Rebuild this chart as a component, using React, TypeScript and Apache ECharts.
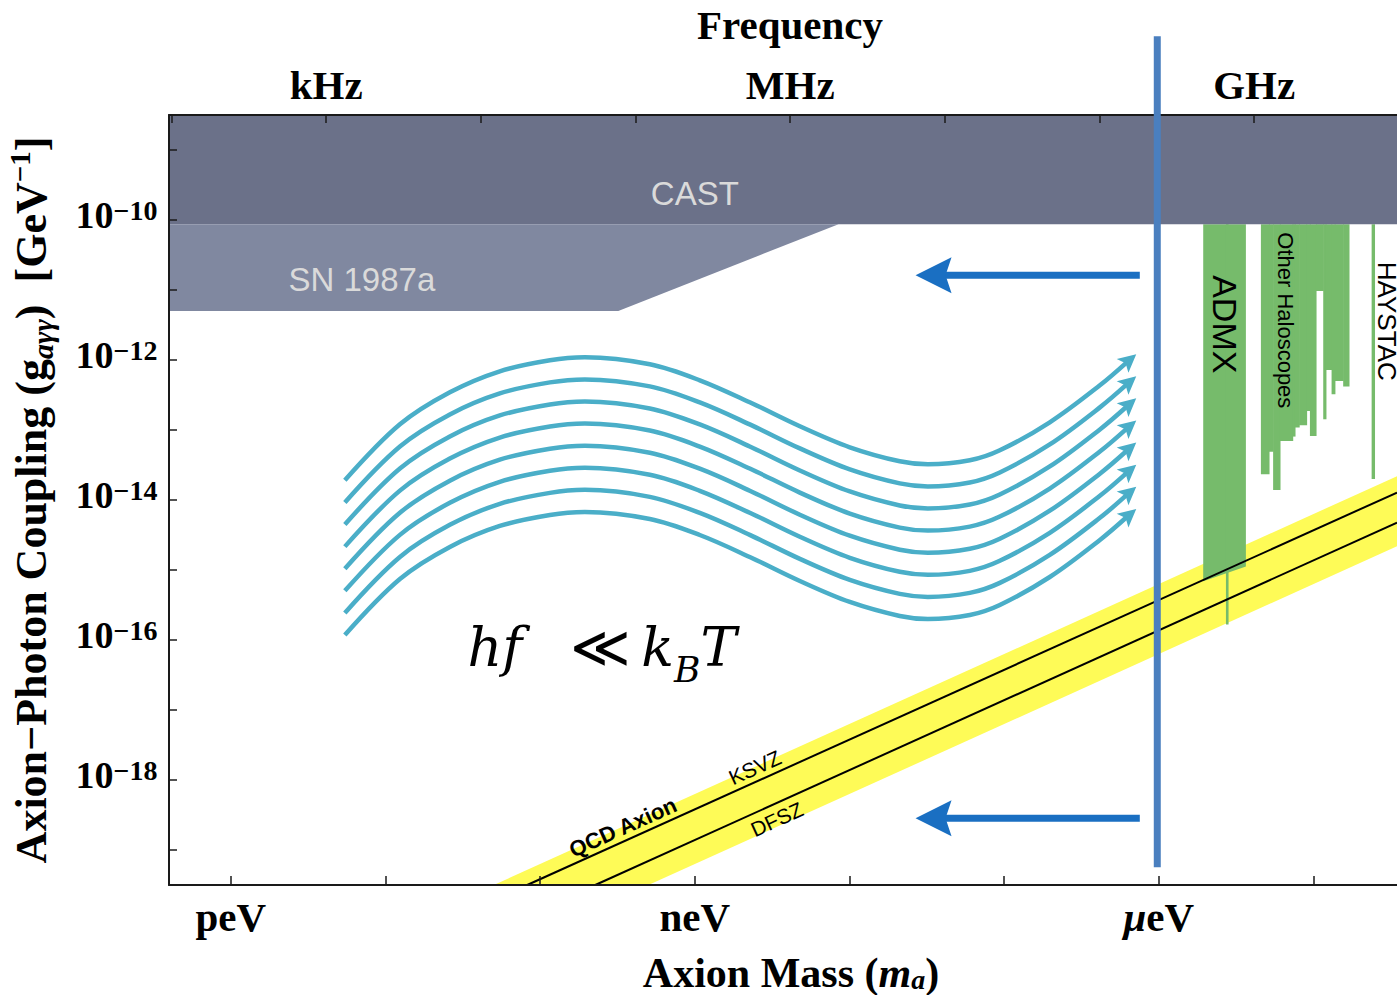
import React, { useEffect, useRef } from "react";
import * as echarts from "echarts";

const SERIF = "'Liberation Serif', 'DejaVu Serif', serif";
const MATH = "'DejaVu Serif', 'Liberation Serif', serif";
const SANS = "'Liberation Sans', Arial, sans-serif";

// ---- axes (log10 of mass in eV, log10 of coupling in GeV^-1) ----
const massMin = -12.4;
const massMax = -4.46;
const couplingMin = -19.5;
const couplingMax = -8.5;

const massTicks = [-12, -11, -10, -9, -8, -7, -6, -5];
const massLabelAt = [-12, -9, -6];
const massLabelText = ["{b|peV}", "{b|neV}", "{i|μ}{b|eV}"];

const couplingTicks = [-19, -18, -17, -16, -15, -14, -13, -12, -11, -10, -9];
const couplingLabelAt = [-18, -16, -14, -12, -10];

// top axis: log10 of frequency in Hz
const logPlanckEVs = -14.3835; // log10(h / eV·s)
const freqTicks = [2, 3, 4, 5, 6, 7, 8, 9];
const freqLabelAt = [3, 6, 9];
const freqLabelText = ["kHz", "MHz", "GHz"];

// ---- regions ----
const castRegion = [[-12.4, -8.5], [-4.46, -8.5], [-4.46, -10.06], [-12.4, -10.06]];
const sn1987aRegion = [[-12.4, -10.06], [-8.071, -10.06], [-9.495, -11.3], [-12.4, -11.3]];
const qcdBand = [[-10.3, -19.5], [-4.46, -13.66], [-4.46, -14.66], [-9.3, -19.5]];
const ksvzLine = [[-10.084, -19.5], [-4.46, -13.894]];
const dfszLine = [[-9.644, -19.5], [-4.46, -14.323]];
const exclusionTop = -10.06;
const admxRegion = [[-5.713, -10.06], [-5.437, -10.06], [-5.437, -14.95], [-5.713, -15.16]];
// [from mass, to mass, lower coupling limit]
const haloscopeBars = [
  [-5.566, -5.553, -15.78],
  [-5.34, -5.288, -13.633],
  [-5.288, -5.261, -13.309],
  [-5.261, -5.217, -13.857],
  [-5.217, -5.135, -13.157],
  [-5.135, -5.12, -13.094],
  [-5.12, -5.093, -12.966],
  [-5.093, -5.045, -12.933],
  [-5.045, -5.023, -12.729],
  [-5.023, -4.984, -13.086],
  [-4.984, -4.937, -11.014],
  [-4.937, -4.92, -12.847],
  [-4.92, -4.883, -12.143],
  [-4.883, -4.862, -12.49],
  [-4.862, -4.808, -12.3],
  [-4.808, -4.771, -12.38],
  [-4.624, -4.606, -13.7],
];

// ---- thermal-noise waves ----
const waveBase = [
  [-11.263, -13.719],
  [-10.907, -12.919],
  [-10.584, -12.461],
  [-10.261, -12.161],
  [-9.937, -12.004],
  [-9.711, -11.961],
  [-9.291, -12.061],
  [-8.968, -12.29],
  [-8.645, -12.604],
  [-8.321, -12.947],
  [-7.998, -13.247],
  [-7.675, -13.447],
  [-7.493, -13.49],
  [-7.222, -13.433],
  [-7.028, -13.29],
  [-6.705, -12.89],
  [-6.381, -12.361],
  [-6.2, -12.019],
];
const waveShifts = [0, 0.316, 0.631, 0.947, 1.263, 1.579, 1.894, 2.21];

// [tail mass, tip mass, coupling]
const leftArrows = [
  [-6.123, -7.573, -10.79],
  [-6.123, -7.573, -18.547],
];
const muEVLine = [[-6.01, -19.246], [-6.01, -7.376]];

// ---- annotations [mass, coupling, key] ----
const annotations = [
  { x: -9.0, y: -9.619, key: "cast" },
  { x: -11.153, y: -10.847, key: "sn" },
  { x: -5.573, y: -11.49, key: "admx" },
  { x: -5.179, y: -11.433, key: "other" },
  { x: -4.526, y: -11.447, key: "haystac" },
  { x: -9.465, y: -18.676, key: "qcd" },
  { x: -8.612, y: -17.819, key: "ksvz" },
  { x: -8.47, y: -18.561, key: "dfsz" },
  { x: -9.6, y: -16.104, key: "hf" },
];

const COLORS = {
  cast: "#6b7189",
  sn: "#8088a0",
  yellow: "#fefb57",
  green: "#76bb6b",
  wave: "#4aaec8",
  arrow: "#1a6fc2",
  muLine: "#4a7fbf",
};

const bandAngle = Math.atan2(70, 154.66);

function polygonSeries(points: number[][], color: string, z: number) {
  return {
    type: "custom",
    coordinateSystem: "cartesian2d",
    silent: true,
    z,
    data: [points[0]],
    renderItem: (_p: any, api: any) => ({
      type: "polygon",
      shape: { points: points.map((pt) => api.coord(pt)) },
      style: { fill: color },
    }),
  };
}

function annotationElement(key: string, x: number, y: number) {
  const base = { type: "text", x, y };
  switch (key) {
    case "cast":
      return { ...base, style: { text: "CAST", fill: "#dadada", font: `33px ${SANS}`, align: "center", verticalAlign: "middle" } };
    case "sn":
      return { ...base, style: { text: "SN 1987a", fill: "#dadada", font: `33px ${SANS}`, align: "center", verticalAlign: "middle" } };
    case "admx":
      return { ...base, rotation: -Math.PI / 2, style: { text: "ADMX", fill: "#000", font: `34px ${SANS}`, align: "center", verticalAlign: "middle" } };
    case "other":
      return { ...base, rotation: -Math.PI / 2, style: { text: "Other Haloscopes", fill: "#000", font: `22px ${SANS}`, align: "center", verticalAlign: "middle" } };
    case "haystac":
      return { ...base, rotation: -Math.PI / 2, style: { text: "HAYSTAC", fill: "#000", font: `26px ${SANS}`, align: "center", verticalAlign: "middle" } };
    case "qcd":
      return { ...base, rotation: bandAngle, style: { text: "QCD Axion", fill: "#000", font: `bold 22px ${SANS}`, align: "center", verticalAlign: "middle" } };
    case "ksvz":
      return { ...base, rotation: bandAngle, style: { text: "KSVZ", fill: "#000", font: `21px ${SANS}`, align: "center", verticalAlign: "middle" } };
    case "dfsz":
      return { ...base, rotation: bandAngle, style: { text: "DFSZ", fill: "#000", font: `21px ${SANS}`, align: "center", verticalAlign: "middle" } };
    default:
      return {
        ...base,
        style: {
          text: "{m|hf}{r|≪}{m|k}{s|B}{m|T}",
          align: "center",
          verticalAlign: "middle",
          rich: {
            m: { fontFamily: MATH, fontStyle: "italic", fontSize: 54, fill: "#000", lineHeight: 80, verticalAlign: "middle" },
            r: { fontFamily: MATH, fontSize: 58, fill: "#000", lineHeight: 80, verticalAlign: "middle", padding: [0, 10, 0, 48] },
            s: { fontFamily: MATH, fontStyle: "italic", fontSize: 36, fill: "#000", lineHeight: 36, verticalAlign: "bottom" },
          },
        },
      };
  }
}

export default function App() {
  const ref = useRef<HTMLDivElement>(null);

  useEffect(() => {
    if (!ref.current) return;
    const chart = echarts.init(ref.current, undefined, { renderer: "svg" });

    const boldLabel = { color: "#000", fontFamily: SERIF, fontWeight: "bold", fontSize: 41 };
    const axisLineStyle = { color: "#1a1a1a", width: 2 };
    const tickStyle = { color: "#1a1a1a", width: 1.5 };

    const waveSeries = waveShifts.map((s) => ({
      type: "line",
      silent: true,
      z: 6,
      smooth: 0.35,
      symbol: "none",
      lineStyle: { color: COLORS.wave, width: 4.5 },
      data: waveBase.map(([x, y]) => [x, y - s]),
    }));

    const n = waveBase.length;
    const waveHeads = waveShifts.map((s) => [
      waveBase[n - 2][0], waveBase[n - 2][1] - s, waveBase[n - 1][0], waveBase[n - 1][1] - s,
    ]);

    const option: any = {
      animation: false,
      grid: { left: 169, right: 0, top: 115, bottom: 110, containLabel: false, outerBoundsMode: "none" },
      xAxis: [
        {
          type: "value",
          position: "bottom",
          min: massMin,
          max: massMax,
          z: 20,
          axisLine: { show: true, onZero: false, lineStyle: axisLineStyle },
          axisTick: { show: true, inside: true, length: 9, customValues: massTicks, lineStyle: tickStyle },
          axisLabel: {
            show: true,
            customValues: massLabelAt,
            formatter: (v: number) => massLabelText[massLabelAt.indexOf(Math.round(v))] ?? "",
            margin: 10,
            rich: {
              b: { ...boldLabel, lineHeight: 44 },
              i: { ...boldLabel, fontStyle: "italic", lineHeight: 44 },
            },
          },
          splitLine: { show: false },
          name: "{b|Axion Mass (}{i|m}{s|a}{b|)}",
          nameLocation: "middle",
          nameGap: 68,
          nameTextStyle: {
            padding: [0, 0, 0, 16],
            rich: {
              b: { ...boldLabel, fontSize: 42, lineHeight: 40 },
              i: { ...boldLabel, fontSize: 42, fontStyle: "italic", lineHeight: 40 },
              s: { ...boldLabel, fontStyle: "italic", fontSize: 28, lineHeight: 24, verticalAlign: "bottom" },
            },
          },
        },
        {
          type: "value",
          position: "top",
          min: massMin - logPlanckEVs,
          max: massMax - logPlanckEVs,
          z: 20,
          axisLine: { show: true, onZero: false, lineStyle: axisLineStyle },
          axisTick: { show: true, inside: true, length: 8, customValues: freqTicks, lineStyle: tickStyle },
          axisLabel: {
            show: true,
            customValues: freqLabelAt,
            formatter: (v: number) => freqLabelText[freqLabelAt.indexOf(Math.round(v))] ?? "",
            margin: 10,
            ...boldLabel,
          },
          splitLine: { show: false },
          name: "Frequency",
          nameLocation: "middle",
          nameGap: 70,
          nameTextStyle: { ...boldLabel, padding: [0, 0, 0, 14] },
        },
      ],
      yAxis: {
        type: "value",
        position: "left",
        min: couplingMin,
        max: couplingMax,
        z: 20,
        axisLine: { show: true, onZero: false, lineStyle: axisLineStyle },
        axisTick: { show: true, inside: true, length: 8, customValues: couplingTicks, lineStyle: tickStyle },
        axisLabel: {
          show: true,
          customValues: couplingLabelAt,
          formatter: (v: number) => `{b|10}{s|−${-Math.round(v)}}{h| }`,
          margin: 11,
          rich: {
            b: { ...boldLabel, fontSize: 38, lineHeight: 48, verticalAlign: "top" },
            s: { ...boldLabel, fontSize: 28, lineHeight: 28, verticalAlign: "top" },
            h: { fontSize: 2, lineHeight: 47, verticalAlign: "middle" },
          },
        },
        splitLine: { show: false },
        name: "{b|Axion−Photon Coupling (g}{s|aγγ}{b|)  [GeV}{p|−1}{b|]}",
        nameLocation: "middle",
        nameRotate: 90,
        nameGap: 112,
        nameTextStyle: {
          rich: {
            b: { ...boldLabel, fontSize: 44, lineHeight: 52 },
            s: { ...boldLabel, fontStyle: "italic", fontSize: 30, lineHeight: 30, verticalAlign: "bottom" },
            p: { ...boldLabel, fontSize: 29, lineHeight: 30, verticalAlign: "top" },
          },
        },
      },
      series: [
        polygonSeries(qcdBand, COLORS.yellow, 1),
        polygonSeries(admxRegion, COLORS.green, 2),
        {
          type: "custom",
          coordinateSystem: "cartesian2d",
          silent: true,
          z: 2,
          data: haloscopeBars,
          encode: { x: [0, 1], y: 2 },
          renderItem: (_p: any, api: any) => {
            const a = api.coord([api.value(0), exclusionTop]);
            const b = api.coord([api.value(1), api.value(2)]);
            return {
              type: "rect",
              shape: { x: a[0], y: a[1], width: b[0] - a[0] + 0.6, height: b[1] - a[1] },
              style: { fill: COLORS.green },
            };
          },
        },
        polygonSeries(castRegion, COLORS.cast, 3),
        polygonSeries(sn1987aRegion, COLORS.sn, 3),
        {
          type: "line",
          silent: true,
          z: 4,
          symbol: "none",
          lineStyle: { color: "#000", width: 2 },
          data: ksvzLine,
        },
        {
          type: "line",
          silent: true,
          z: 4,
          symbol: "none",
          lineStyle: { color: "#000", width: 2 },
          data: dfszLine,
        },
        ...waveSeries,
        {
          type: "custom",
          coordinateSystem: "cartesian2d",
          silent: true,
          z: 7,
          data: waveHeads,
          encode: { x: [0, 2], y: [1, 3] },
          renderItem: (_p: any, api: any) => {
            const p0 = api.coord([api.value(0), api.value(1)]);
            const p1 = api.coord([api.value(2), api.value(3)]);
            const dx = p1[0] - p0[0];
            const dy = p1[1] - p0[1];
            const len = Math.hypot(dx, dy) || 1;
            const ux = dx / len, uy = dy / len;
            const nx = -uy, ny = ux;
            const tip = [p1[0] + ux * 11, p1[1] + uy * 11];
            const L = 18, Wd = 9, notch = 4;
            const back = [tip[0] - ux * L, tip[1] - uy * L];
            return {
              type: "polygon",
              shape: {
                points: [
                  tip,
                  [back[0] + nx * Wd, back[1] + ny * Wd],
                  [tip[0] - ux * (L - notch), tip[1] - uy * (L - notch)],
                  [back[0] - nx * Wd, back[1] - ny * Wd],
                ],
              },
              style: { fill: COLORS.wave },
            };
          },
        },
        {
          type: "custom",
          coordinateSystem: "cartesian2d",
          silent: true,
          z: 8,
          data: leftArrows,
          encode: { x: [0, 1], y: 2 },
          renderItem: (_p: any, api: any) => {
            const tail = api.coord([api.value(0), api.value(2)]);
            const tip = api.coord([api.value(1), api.value(2)]);
            const L = 36, Hh = 18, notch = 6;
            return {
              type: "group",
              children: [
                {
                  type: "rect",
                  shape: { x: tip[0] + L - notch - 1, y: tip[1] - 3.5, width: tail[0] - (tip[0] + L - notch - 1), height: 7 },
                  style: { fill: COLORS.arrow },
                },
                {
                  type: "polygon",
                  shape: {
                    points: [
                      [tip[0], tip[1]],
                      [tip[0] + L, tip[1] - Hh],
                      [tip[0] + L - notch, tip[1]],
                      [tip[0] + L, tip[1] + Hh],
                    ],
                  },
                  style: { fill: COLORS.arrow },
                },
              ],
            };
          },
        },
        {
          type: "line",
          silent: true,
          z: 30,
          clip: false,
          symbol: "none",
          lineStyle: { color: COLORS.muLine, width: 7 },
          data: muEVLine,
        },
        {
          type: "custom",
          coordinateSystem: "cartesian2d",
          silent: true,
          z: 31,
          data: annotations.map((a) => [a.x, a.y]),
          renderItem: (p: any, api: any) => {
            const pt = api.coord([api.value(0), api.value(1)]);
            return annotationElement(annotations[p.dataIndex].key, pt[0], pt[1]);
          },
        },
      ],
    };

    chart.setOption(option);
    return () => chart.dispose();
  }, []);

  return (
    <div
      ref={ref}
      style={{ position: "absolute", left: 0, top: 0, width: 1397, height: 995, background: "#fff" }}
    />
  );
}
